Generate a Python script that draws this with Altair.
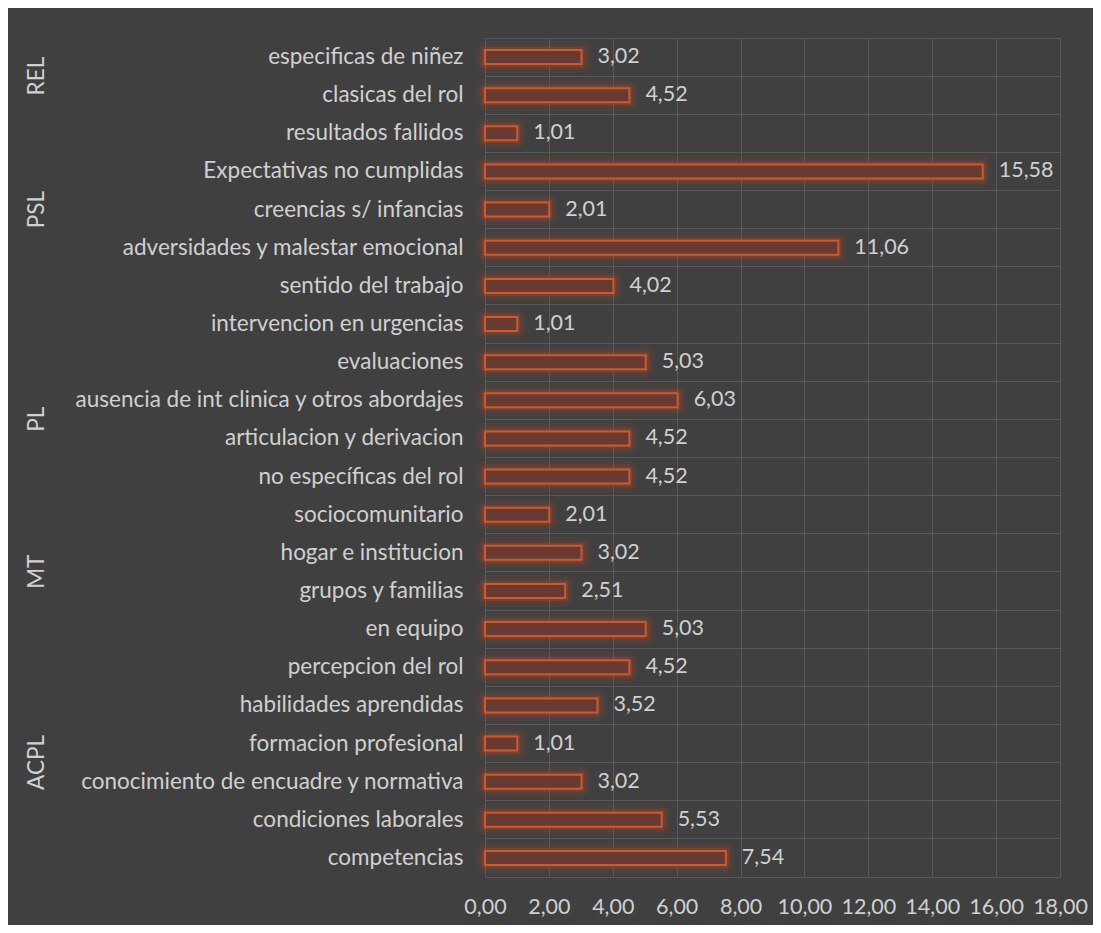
import altair as alt
import pandas as pd

categories = [
    "especificas de niñez", "clasicas del rol", "resultados fallidos",
    "Expectativas no cumplidas", "creencias s/ infancias",
    "adversidades y malestar emocional", "sentido del trabajo",
    "intervencion en urgencias", "evaluaciones",
    "ausencia de int clinica y otros abordajes", "articulacion y derivacion",
    "no específicas del rol", "sociocomunitario", "hogar  e institucion",
    "grupos y familias", "en equipo", "percepcion del rol",
    "habilidades aprendidas", "formacion profesional",
    "conocimiento de encuadre y normativa", "condiciones laborales",
    "competencias",
]
values = [3.02, 4.52, 1.01, 15.58, 2.01, 11.06, 4.02, 1.01, 5.03, 6.03, 4.52,
          4.52, 2.01, 3.02, 2.51, 5.03, 4.52, 3.52, 1.01, 3.02, 5.53, 7.54]
x_ticks = [0, 2, 4, 6, 8, 10, 12, 14, 16, 18]

# group labels and the category row they sit next to
group_names = ["REL", "PSL", "PL", "MT", "ACPL"]
group_rows = ["clasicas del rol", "creencias s/ infancias",
              "ausencia de int clinica y otros abordajes",
              "hogar  e institucion", "formacion profesional"]
group_shift = ["up", "mid", "down", "down", "down"]

df = pd.DataFrame({"cat": categories, "v": values})
gdf = pd.DataFrame({"g": group_names, "cat": group_rows, "shift": group_shift})

FONT = "Lato"
FS = 22.5
FSN = 21.5
TXT = "#D0D0D0"
GRID = "#595959"
BAR_EDGE = "#CC5A2C"

y_enc = alt.Y("cat:N", sort=categories, title=None,
              scale=alt.Scale(paddingInner=0, paddingOuter=0),
              axis=alt.Axis(ticks=False, tickSize=0, domain=False, labelPadding=22,
                            labelFontSize=FS, labelColor=TXT, labelFont=FONT,
                            labelLimit=600, grid=True, gridColor=GRID,
                            bandPosition=0))
x_enc = alt.X("v:Q", title=None,
              scale=alt.Scale(domain=[0, 18], nice=False),
              axis=alt.Axis(values=x_ticks, ticks=False, tickSize=0, domain=False,
                            labelPadding=19, labelFontSize=FSN, labelColor=TXT,
                            labelFont=FONT, gridColor=GRID, labelOverlap=False,
                            labelFlush=False,
                            labelExpr="replace(format(datum.value, '.2f'), '.', ',')"))

base = alt.Chart(df)
y_plain = alt.Y("cat:N", sort=categories)

glow1 = base.mark_bar(size=14, fillOpacity=0, stroke="#B0432A", strokeWidth=18,
                      strokeOpacity=0.09, strokeJoin="round").encode(x=x_enc, y=y_enc)
glow2 = base.mark_bar(size=14, fillOpacity=0, stroke="#B0432A", strokeWidth=11,
                      strokeOpacity=0.16, strokeJoin="round").encode(x="v:Q", y=y_plain)
glow3 = base.mark_bar(size=14, fillOpacity=0, stroke="#B84A2B", strokeWidth=6,
                      strokeOpacity=0.25, strokeJoin="round").encode(x="v:Q", y=y_plain)
bars = base.mark_bar(size=14, fill="#683A31", stroke=BAR_EDGE,
                     strokeWidth=2).encode(x="v:Q", y=y_plain)
labels = base.transform_calculate(
    lbl="replace(format(datum.v, '.2f'), '.', ',')"
).mark_text(align="left", baseline="middle", dx=16, fontSize=FSN, font=FONT,
            color=TXT).encode(x="v:Q", y=y_plain, text="lbl:N")

def group_layer(shift, offset):
    return alt.Chart(gdf).transform_filter(
        alt.datum.shift == shift
    ).mark_text(angle=270, align="center", baseline="middle", fontSize=FS,
                font=FONT, color=TXT).encode(
        y=y_plain,
        x=alt.value(-448),
        yOffset=alt.value(offset),
        text="g:N")

groups = group_layer("up", 0) + group_layer("mid", 19) + group_layer("down", 38)

chart = alt.layer(glow1, glow2, glow3, bars, labels, groups).properties(
    width=575, height=839,
    background="#404040",
    autosize=alt.AutoSizeParams(type="none"),
    padding={"left": 477, "top": 30, "right": 33, "bottom": 48},
).configure_view(stroke=GRID, strokeWidth=1)

chart.save("out.html", embed_options={"renderer": "svg", "actions": False})
